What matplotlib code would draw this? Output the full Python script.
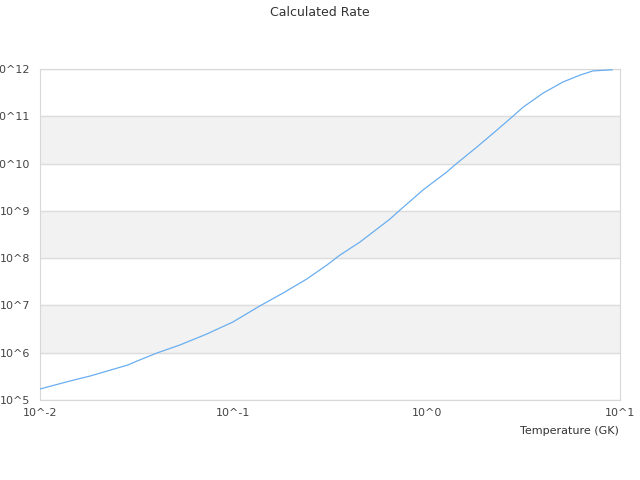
import matplotlib
matplotlib.use("Agg")
import matplotlib.pyplot as plt

# Temperature (GK) and calculated rate
temp = [0.01, 0.0143, 0.0182, 0.0285, 0.0318, 0.0403, 0.053, 0.073, 0.0995,
        0.137, 0.181, 0.240, 0.305, 0.356, 0.452, 0.646, 0.728, 0.957, 1.27,
        1.44, 1.82, 2.31, 2.80, 3.15, 4.0, 5.07, 6.21, 7.24, 9.1]
rate = [1.71e5, 2.52e5, 3.22e5, 5.50e5, 6.68e5, 9.86e5, 1.46e6, 2.49e6, 4.46e6,
        9.73e6, 1.83e7, 3.62e7, 7.16e7, 1.16e8, 2.19e8, 6.71e8, 1.04e9, 2.76e9,
        6.62e9, 1.03e10, 2.24e10, 5.12e10, 1.01e11, 1.55e11, 3.09e11, 5.31e11,
        7.41e11, 9.1e11, 9.6e11]

x_ticks = [0.01, 0.1, 1, 10]
x_labels = ["10^-2", "10^-1", "10^0", "10^1"]
y_ticks = [1e5, 1e6, 1e7, 1e8, 1e9, 1e10, 1e11, 1e12]
y_labels = ["10^5", "10^6", "10^7", "10^8", "10^9", "10^10", "10^11", "10^12"]

fig = plt.figure(figsize=(6.4, 4.8), dpi=100)
ax = fig.add_axes([0.0625, 0.1667, 0.90625, 0.6896])

# alternating bands
for lo in [1e6, 1e8, 1e10]:
    ax.axhspan(lo, lo * 10, color="#f2f2f2", zorder=0)

ax.plot(temp, rate, color="#6aaef0", linewidth=0.9, zorder=3)

ax.set_xscale("log")
ax.set_yscale("log")
ax.set_xlim(0.01, 10)
ax.set_ylim(1e5, 1e12)

ax.set_xticks(x_ticks)
ax.set_xticklabels(x_labels)
ax.set_yticks(y_ticks)
ax.set_yticklabels(y_labels)
ax.minorticks_off()
ax.tick_params(length=0, labelsize=8, labelcolor="#444444", pad=7)
ax.tick_params(axis="x", pad=6)

ax.grid(axis="y", color="#dddddd", linewidth=1, zorder=1)
for s in ax.spines.values():
    s.set_color("#d8d8d8")

fig.text(0.5, 0.975, "Calculated Rate", ha="center", va="center",
         fontsize=9, color="#333333")
fig.text(0.967, 0.102, "Temperature (GK)", ha="right", va="center",
         fontsize=8, color="#333333")

fig.savefig("out.png", dpi=100)
